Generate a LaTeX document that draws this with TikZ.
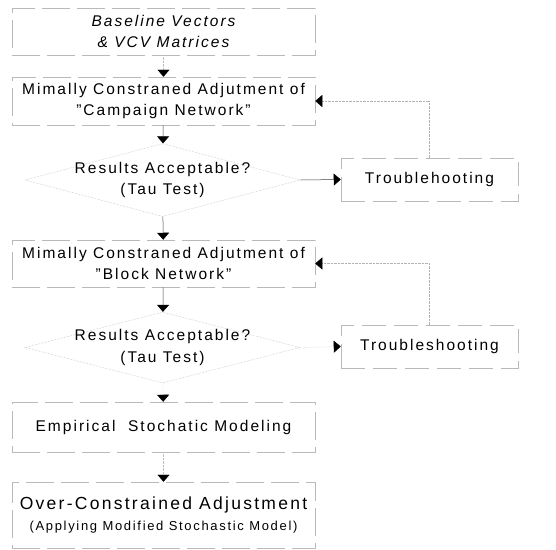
\documentclass[tikz,border=0pt]{standalone}
\usepackage{fontspec}
\setmainfont{Liberation Sans}[LetterSpace=13]
\usetikzlibrary{shapes.geometric,arrows.meta}
\newcommand{\dq}{\symbol{34}}
\newcommand{\zw}[1]{\makebox[0pt]{#1}}
\begin{document}
\begin{tikzpicture}[x=1pt,y=-1pt,
  font=\fontsize{15.5pt}{21.5pt}\selectfont,
  box/.style={draw=gray!55,line width=0.5pt,dash pattern=on 28pt off 7pt,
    minimum width=303pt,inner sep=0pt,align=center},
  decision/.style={draw=gray!55,line width=0.5pt,densely dotted,shape=diamond,
    aspect=3.77,minimum width=275pt,minimum height=73pt,inner sep=0pt,align=center},
  fixbox/.style={draw=gray!55,line width=0.5pt,dash pattern=on 24pt off 8pt,
    minimum width=177pt,minimum height=43pt,inner sep=0pt},
  flow/.style={draw=black!75,line width=0.5pt,
    -{Triangle[width=12pt,length=7pt,color=black]}},
  faint/.style={draw=gray!50,line width=0.4pt,densely dotted,
    -{Triangle[width=12pt,length=7pt,color=black]}}]
\useasboundingbox (0,0) rectangle (556,549);

% main column
\node[box,minimum height=47pt] (src) at (163.5,31.5)
  {\itshape Baseline Vectors\\\itshape \& VCV Matrices};
\node[box,minimum height=48pt] (camp) at (163.5,101)
  {Mimally Constraned Adjutment of\\\dq Campaign Network\dq};
\node[decision] (test1) at (162.5,180)
  {\zw{Results Acceptable?}\\\zw{(Tau Test)}};
\node[box,minimum height=47pt] (block) at (163.5,263.5)
  {Mimally Constraned Adjutment of\\\dq Block Network\dq};
\node[decision,minimum height=71pt] (test2) at (162.5,347.5)
  {\zw{Results Acceptable?}\\\zw{(Tau Test)}};
\node[box,minimum height=50pt] (emp) at (163.5,427)
  {Empirical\ \ Stochatic Modeling};
\node[box,minimum height=66pt] (over) at (163.5,515)
  {{\fontsize{17.5pt}{22pt}\selectfont Over-Constrained Adjustment}\\[-1pt]
   {\fontsize{13pt}{16pt}\selectfont (Applying Modified Stochastic Model)}};

% troubleshooting boxes
\node[fixbox] (fix1) at (429.5,179.5) {Troublehooting};
\node[fixbox] (fix2) at (429.5,346.5) {Troubleshooting};

% forward flow
\draw[faint] (src) -- (camp);
\draw[flow] (camp) -- (test1);
\draw[flow] (test1) -- (block);
\draw[flow] (block) -- (test2);
\draw[faint] (test2) -- (emp);
\draw[faint] (emp) -- (over);

% branches to troubleshooting and back
\draw[flow] (test1.east) -- (fix1.west);
\draw[faint] (test2.east) -- (fix2.west);
\draw[faint,draw=gray!60] (fix1.north) |- (camp.east);
\draw[faint,draw=gray!60] (fix2.north) |- (block.east);
\end{tikzpicture}
\end{document}
